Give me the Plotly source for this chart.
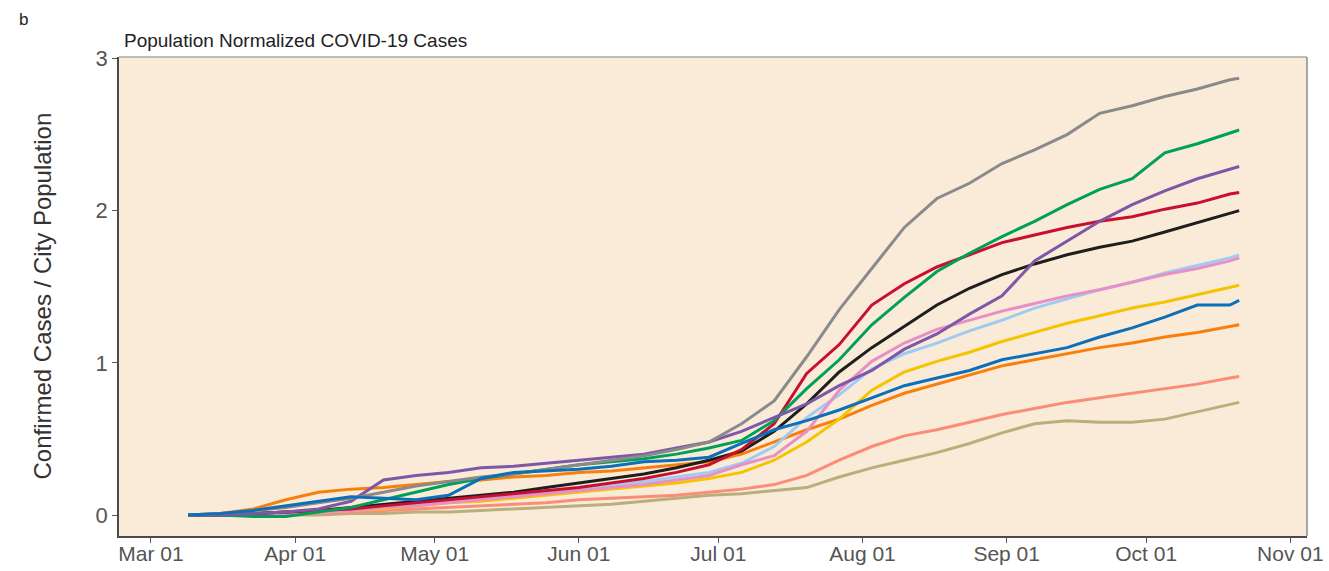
import plotly.graph_objects as go

# Weekly sample dates (plus the final reporting day)
dates = [
    "2020-03-09", "2020-03-16", "2020-03-23", "2020-03-30", "2020-04-06", "2020-04-13",
    "2020-04-20", "2020-04-27", "2020-05-04", "2020-05-11", "2020-05-18", "2020-05-25",
    "2020-06-01", "2020-06-08", "2020-06-15", "2020-06-22", "2020-06-29", "2020-07-06",
    "2020-07-13", "2020-07-20", "2020-07-27", "2020-08-03", "2020-08-10", "2020-08-17",
    "2020-08-24", "2020-08-31", "2020-09-07", "2020-09-14", "2020-09-21", "2020-09-28",
    "2020-10-05", "2020-10-12", "2020-10-19", "2020-10-21",
]

# Confirmed cases divided by city population, one list per city
gray = [0.00, 0.01, 0.03, 0.05, 0.08, 0.11, 0.15, 0.19, 0.22, 0.25, 0.27, 0.30,
        0.33, 0.36, 0.39, 0.43, 0.48, 0.60, 0.75, 1.04, 1.35, 1.62, 1.89, 2.08,
        2.18, 2.31, 2.40, 2.50, 2.64, 2.69, 2.75, 2.80, 2.86, 2.87]
green = [0.00, 0.00, -0.01, -0.01, 0.02, 0.05, 0.10, 0.15, 0.20, 0.24, 0.27, 0.30,
         0.33, 0.35, 0.37, 0.40, 0.44, 0.49, 0.62, 0.83, 1.02, 1.25, 1.43, 1.60,
         1.72, 1.83, 1.93, 2.04, 2.14, 2.21, 2.38, 2.44, 2.51, 2.53]
purple = [0.00, 0.00, 0.01, 0.02, 0.04, 0.09, 0.23, 0.26, 0.28, 0.31, 0.32, 0.34,
          0.36, 0.38, 0.40, 0.44, 0.48, 0.55, 0.64, 0.73, 0.85, 0.95, 1.09, 1.19,
          1.32, 1.44, 1.67, 1.80, 1.93, 2.04, 2.13, 2.21, 2.27, 2.29]
red = [0.00, 0.00, 0.01, 0.02, 0.03, 0.04, 0.06, 0.08, 0.10, 0.12, 0.14, 0.16,
       0.18, 0.21, 0.24, 0.28, 0.33, 0.43, 0.60, 0.93, 1.12, 1.38, 1.52, 1.63,
       1.71, 1.79, 1.84, 1.89, 1.93, 1.96, 2.01, 2.05, 2.11, 2.12]
black = [0.00, 0.00, 0.01, 0.02, 0.03, 0.05, 0.07, 0.09, 0.11, 0.13, 0.15, 0.18,
         0.21, 0.24, 0.27, 0.31, 0.36, 0.42, 0.55, 0.73, 0.94, 1.10, 1.24, 1.38,
         1.49, 1.58, 1.65, 1.71, 1.76, 1.80, 1.86, 1.92, 1.98, 2.00]
pink = [0.00, 0.00, 0.00, 0.01, 0.02, 0.03, 0.05, 0.06, 0.08, 0.10, 0.12, 0.14,
        0.16, 0.18, 0.20, 0.23, 0.26, 0.33, 0.39, 0.55, 0.82, 1.01, 1.13, 1.22,
        1.28, 1.34, 1.39, 1.44, 1.48, 1.53, 1.58, 1.62, 1.67, 1.69]
light_blue = [0.00, 0.00, 0.00, 0.01, 0.02, 0.03, 0.05, 0.07, 0.09, 0.11, 0.13, 0.15,
              0.17, 0.19, 0.22, 0.25, 0.28, 0.34, 0.45, 0.64, 0.79, 0.96, 1.06, 1.13,
              1.21, 1.28, 1.36, 1.42, 1.48, 1.53, 1.59, 1.64, 1.69, 1.71]
yellow = [0.00, 0.00, 0.00, 0.01, 0.02, 0.03, 0.04, 0.06, 0.08, 0.09, 0.11, 0.13,
          0.15, 0.17, 0.19, 0.21, 0.24, 0.28, 0.36, 0.48, 0.63, 0.82, 0.94, 1.01,
          1.07, 1.14, 1.20, 1.26, 1.31, 1.36, 1.40, 1.45, 1.50, 1.51]
blue = [0.00, 0.01, 0.03, 0.06, 0.09, 0.12, 0.11, 0.10, 0.13, 0.24, 0.28, 0.29,
        0.30, 0.32, 0.35, 0.36, 0.38, 0.47, 0.56, 0.62, 0.69, 0.77, 0.85, 0.90,
        0.95, 1.02, 1.06, 1.10, 1.17, 1.23, 1.30, 1.38, 1.38, 1.41]
orange = [0.00, 0.01, 0.04, 0.10, 0.15, 0.17, 0.18, 0.20, 0.22, 0.23, 0.25, 0.26,
          0.28, 0.29, 0.31, 0.33, 0.35, 0.40, 0.48, 0.56, 0.63, 0.72, 0.80, 0.86,
          0.92, 0.98, 1.02, 1.06, 1.10, 1.13, 1.17, 1.20, 1.24, 1.25]
salmon = [0.00, 0.00, 0.00, 0.01, 0.01, 0.02, 0.03, 0.04, 0.05, 0.06, 0.07, 0.08,
          0.10, 0.11, 0.12, 0.13, 0.15, 0.17, 0.20, 0.26, 0.36, 0.45, 0.52, 0.56,
          0.61, 0.66, 0.70, 0.74, 0.77, 0.80, 0.83, 0.86, 0.90, 0.91]
khaki = [0.00, 0.00, 0.00, 0.00, 0.00, 0.01, 0.01, 0.02, 0.02, 0.03, 0.04, 0.05,
         0.06, 0.07, 0.09, 0.11, 0.13, 0.14, 0.16, 0.18, 0.25, 0.31, 0.36, 0.41,
         0.47, 0.54, 0.60, 0.62, 0.61, 0.61, 0.63, 0.68, 0.73, 0.74]

# Drawing order (first drawn sits underneath) and line colours
series = [
    (khaki, "#B9AF7C"),
    (salmon, "#FA8C78"),
    (orange, "#F97F0C"),
    (yellow, "#F5C400"),
    (light_blue, "#9FCBF2"),
    (pink, "#E690C6"),
    (black, "#1E1E1E"),
    (red, "#C8102E"),
    (green, "#00A05A"),
    (purple, "#7E57A8"),
    (gray, "#8A8A8A"),
    (blue, "#0B6FBA"),
]

fig = go.Figure()
for values, color in series:
    fig.add_trace(go.Scatter(
        x=dates, y=values, mode="lines",
        line=dict(color=color, width=3),
        showlegend=False, hoverinfo="skip",
    ))

font_family = "Liberation Sans, Arial, sans-serif"

fig.update_layout(
    width=1329, height=571,
    margin=dict(l=119, r=22, t=57, b=35),
    paper_bgcolor="white",
    plot_bgcolor="#FAEBD8",
    font=dict(family=font_family, color="#4d4d4d"),
    xaxis=dict(
        type="date", automargin=False,
        range=["2020-02-23 03:00", "2020-11-04 14:00"],
        dtick="M1", tick0="2020-03-01", tickformat="%b %d",
        ticks="outside", ticklen=5, tickcolor="#555",
        tickfont=dict(size=21, color="#555"), ticklabelstandoff=-7,
        showgrid=False, zeroline=False,
        showline=True, linecolor="#4a4a4a", linewidth=1.5,
    ),
    yaxis=dict(
        automargin=False,
        range=[-0.138, 3.01],
        tickvals=[0, 1, 2, 3],
        ticks="outside", ticklen=5, tickcolor="#555",
        tickfont=dict(size=22, color="#555"),
        showgrid=False, zeroline=False,
        showline=True, linecolor="#4a4a4a", linewidth=1.5,
    ),
    shapes=[
        # lighter top and right edges of the panel frame
        dict(type="line", xref="paper", yref="paper", x0=0, x1=1, y0=1, y1=1,
             line=dict(color="#a8a8a8", width=1.5)),
        dict(type="line", xref="paper", yref="paper", x0=1, x1=1, y0=0, y1=1,
             line=dict(color="#8c8c8c", width=1.5)),
    ],
    annotations=[
        dict(text="Confirmed Cases / City Population", xref="paper", yref="paper",
             x=-0.0648, y=0.5, textangle=-90, xanchor="center", yanchor="middle",
             showarrow=False, font=dict(size=24, color="#333")),
        dict(text="Population Normalized COVID-19 Cases", xref="paper", yref="paper",
             x=0.0025, y=1.0, yshift=17, xanchor="left", yanchor="middle",
             showarrow=False, font=dict(size=19, color="#222")),
        dict(text="b", xref="paper", yref="paper", x=-0.0859, y=1.0, yshift=38,
             xanchor="left", yanchor="middle", showarrow=False,
             font=dict(size=17, color="#222")),
    ],
)

fig.write_html("out.html")
